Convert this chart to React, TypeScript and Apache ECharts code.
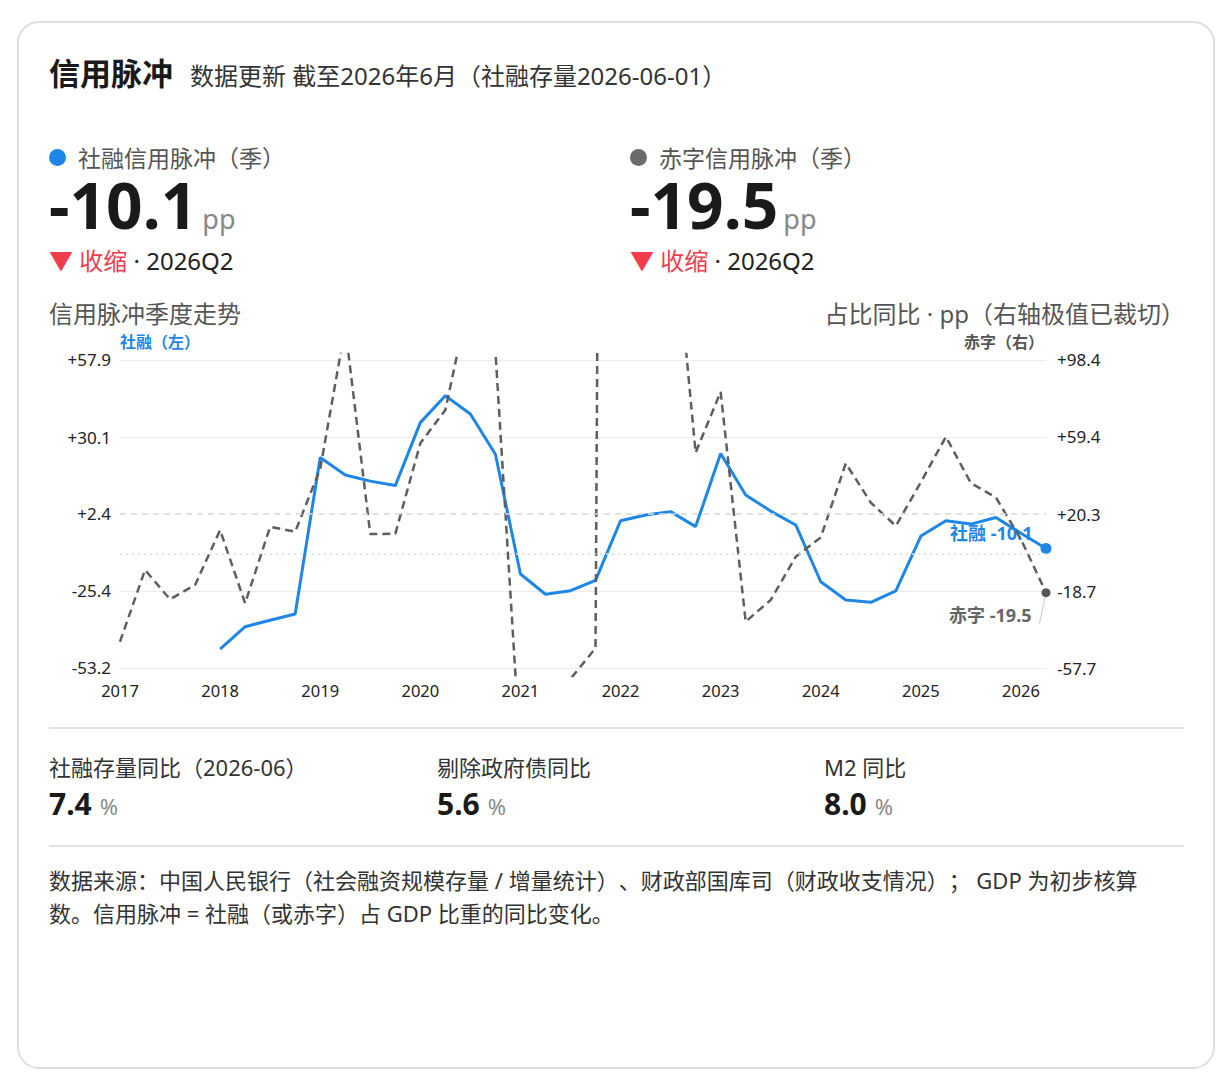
import React, { useEffect, useRef } from "react";
import * as echarts from "echarts";

const QUARTERS = [
  "2017Q1", "2017Q2", "2017Q3", "2017Q4",
  "2018Q1", "2018Q2", "2018Q3", "2018Q4",
  "2019Q1", "2019Q2", "2019Q3", "2019Q4",
  "2020Q1", "2020Q2", "2020Q3", "2020Q4",
  "2021Q1", "2021Q2", "2021Q3", "2021Q4",
  "2022Q1", "2022Q2", "2022Q3", "2022Q4",
  "2023Q1", "2023Q2", "2023Q3", "2023Q4",
  "2024Q1", "2024Q2", "2024Q3", "2024Q4",
  "2025Q1", "2025Q2", "2025Q3", "2025Q4",
  "2026Q1", "2026Q2",
];

// 社融信用脉冲（左轴, pp）
const SOCIAL_PULSE: (number | null)[] = [
  null, null, null, null,
  -46.4, -38.3, -36.0, -33.7,
  22.7, 16.4, 14.2, 12.6,
  35.3, 45.0, 38.4, 23.9,
  -19.3, -26.6, -25.3, -21.6,
  -0.1, 2.0, 3.2, -2.2,
  24.2, 9.2, 3.4, -1.6,
  -22.1, -28.7, -29.5, -25.4,
  -5.6, -0.1, -1.3, 1.1,
  -4.6, -10.1,
];

// 赤字信用脉冲（右轴, pp；极值超出轴范围被裁切）
const DEFICIT_PULSE: number[] = [
  -44.4, -8.0, -22.9, -15.6,
  12.2, -24.9, 13.9, 11.4,
  43.2, 115.0, 10.2, 10.3,
  56.2, 73.1, 132.5, 103.0,
  -102.0, -90.0, -63.2, -47.7,
  2100.0, 820.0, 187.0, 51.4,
  82.3, -34.2, -23.2, -1.3,
  8.5, 46.0, 26.1, 14.3,
  36.5, 59.5, 36.0, 28.7,
  7.5, -19.5,
];

const LEFT_TICKS = [-53.2, -25.4, 2.4, 30.1, 57.9];
const RIGHT_TICKS = [-57.7, -18.7, 20.3, 59.4, 98.4];
const LEFT_RANGE = [-56.09, 60.06];
const RIGHT_RANGE = [-61.75, 101.44];
const LEFT_MID = 2.4;
const RIGHT_ZERO = 0;

const HEAD_SOCIAL = { label: "社融信用脉冲（季）", value: "-10.1", state: "收缩", period: "2026Q2" };
const HEAD_DEFICIT = { label: "赤字信用脉冲（季）", value: "-19.5", state: "收缩", period: "2026Q2" };

const STAT_LABELS = ["社融存量同比（2026-06）", "剔除政府债同比", "M2 同比"];
const STAT_VALUES = ["7.4", "5.6", "8.0"];

const BLUE = "#1e86e6";
const GRAY = "#5e5e5e";
const RED = "#f03c4c";
const FONT = '"Noto Sans", "Noto Sans CJK SC", sans-serif';

const fmt = (v: number) => (v > 0 ? "+" : "") + v.toFixed(1);

function Chart() {
  const ref = useRef<HTMLDivElement>(null);
  useEffect(() => {
    if (!ref.current) return;
    const chart = echarts.init(ref.current, undefined, { renderer: "svg" });
    const last = QUARTERS.length - 1;
    const socialData = SOCIAL_PULSE.map((v, i) =>
      i === last
        ? {
            value: v,
            label: {
              show: true,
              position: "left",
              distance: 4,
              offset: [-4, -16],
              formatter: "社融 " + (v as number).toFixed(1),
              color: BLUE,
              fontWeight: "bold",
              fontSize: 18,
              fontFamily: FONT,
            },
          }
        : v
    );
    const deficitData = DEFICIT_PULSE.map((v, i) =>
      i === last
        ? {
            value: v,
            label: {
              show: true,
              position: "left",
              distance: 4,
              offset: [2, 22],
              padding: [0, 8, 0, 0],
              formatter: "赤字 " + v.toFixed(1),
              color: "#666",
              fontWeight: "bold",
              fontSize: 18,
              fontFamily: FONT,
            },
            labelLine: { show: true, lineStyle: { color: "#c8c8c8", width: 1 } },
          }
        : v
    );
    const option: any = {
      animation: false,
      grid: { left: 90, right: 124, top: 34, bottom: 44 },
      xAxis: {
        type: "category",
        data: QUARTERS,
        boundaryGap: false,
        axisLine: { show: false },
        axisTick: { show: false },
        splitLine: { show: false },
        axisLabel: {
          interval: 3,
          formatter: (v: string) => v.slice(0, 4),
          color: "#222",
          fontSize: 16.5,
          margin: 6,
          fontFamily: FONT,
        },
      },
      yAxis: [
        {
          type: "value",
          min: LEFT_RANGE[0],
          max: LEFT_RANGE[1],
          name: "社融（左）",
          nameLocation: "end",
          nameGap: 12,
          nameTextStyle: {
            align: "left",
            verticalAlign: "middle",
            color: BLUE,
            fontWeight: "bold",
            fontSize: 16,
            fontFamily: FONT,
          },
          axisLine: { show: false },
          axisTick: { show: false, customValues: LEFT_TICKS },
          axisLabel: {
            customValues: LEFT_TICKS,
            formatter: fmt,
            color: "#222",
            fontSize: 17,
            margin: 9,
            fontFamily: FONT,
          },
          splitLine: {
            show: true,
            lineStyle: {
              color: ["#ececec", "#ececec", "rgba(0,0,0,0)", "#ececec", "#ececec"],
              width: 1,
            },
          },
        },
        {
          type: "value",
          position: "right",
          min: RIGHT_RANGE[0],
          max: RIGHT_RANGE[1],
          name: "赤字（右）",
          nameLocation: "end",
          nameGap: 12,
          nameTextStyle: {
            align: "right",
            verticalAlign: "middle",
            color: "#555",
            fontWeight: "bold",
            fontSize: 16,
            padding: [0, 2, 0, 0],
            fontFamily: FONT,
          },
          axisLine: { show: false },
          axisTick: { show: false, customValues: RIGHT_TICKS },
          axisLabel: {
            customValues: RIGHT_TICKS,
            formatter: fmt,
            color: "#222",
            fontSize: 17,
            margin: 11,
            fontFamily: FONT,
          },
          splitLine: { show: false },
        },
      ],
      series: [
        {
          name: "社融",
          type: "line",
          yAxisIndex: 0,
          data: socialData,
          symbol: "circle",
          showSymbol: true,
          symbolSize: (_v: any, p: any) => (p.dataIndex === last ? 11 : 0),
          itemStyle: { color: BLUE },
          lineStyle: { color: BLUE, width: 3 },
          connectNulls: false,
          z: 3,
          markLine: {
            silent: true,
            symbol: "none",
            label: { show: false },
            lineStyle: { color: "#d9d9d9", type: [6, 5], width: 1.5 },
            data: [{ yAxis: LEFT_MID }],
          },
        },
        {
          name: "赤字",
          type: "line",
          yAxisIndex: 1,
          data: deficitData,
          symbol: "circle",
          showSymbol: true,
          symbolSize: (_v: any, p: any) => (p.dataIndex === last ? 9 : 0),
          itemStyle: { color: "#555" },
          lineStyle: { color: GRAY, width: 2.5, type: [8, 5] },
          z: 4,
          markLine: {
            silent: true,
            symbol: "none",
            label: { show: false },
            lineStyle: { color: "#dcdcdc", type: [2, 4], width: 1.5 },
            data: [{ yAxis: RIGHT_ZERO }],
          },
        },
      ],
    };
    chart.setOption(option);
    return () => chart.dispose();
  }, []);
  return (
    <div
      ref={ref}
      style={{ position: "absolute", left: 30, top: 320, width: 1140, height: 400 }}
    />
  );
}

function T(props: {
  x?: number;
  right?: number;
  cy: number;
  size: number;
  color?: string;
  bold?: boolean;
  children: React.ReactNode;
}) {
  const { x, right, cy, size, color = "#333", bold, children } = props;
  const style: React.CSSProperties = {
    position: "absolute",
    top: cy - size / 2,
    fontSize: size,
    lineHeight: size + "px",
    color,
    fontWeight: bold ? 700 : 400,
    whiteSpace: "nowrap",
  };
  if (x !== undefined) style.left = x;
  if (right !== undefined) {
    style.right = right;
    style.textAlign = "right";
  }
  return <div style={style}>{children}</div>;
}

function Head(props: { x: number; dot: string; h: typeof HEAD_SOCIAL }) {
  const { x, dot, h } = props;
  return (
    <>
      <div
        style={{
          position: "absolute",
          left: x,
          top: 149,
          width: 17,
          height: 17,
          borderRadius: 9,
          background: dot,
        }}
      />
      <T x={x + 29} cy={158} size={23} color="#555">
        {h.label}
      </T>
      <div
        style={{
          position: "absolute",
          left: x,
          top: 173,
          fontSize: 64,
          lineHeight: "64px",
          whiteSpace: "nowrap",
        }}
      >
        <span style={{ fontWeight: 700, color: "#1a1a1a" }}>{h.value}</span>
        <span style={{ fontSize: 27, color: "#888", marginLeft: 5, lineHeight: "1" }}>pp</span>
      </div>
      <T x={x} cy={261} size={24} color="#222">
        <span style={{ color: RED }}>▼ {h.state}</span>
        <span> · {h.period}</span>
      </T>
    </>
  );
}

function Stat(props: { x: number; label: string; value: string }) {
  return (
    <>
      <T x={props.x} cy={767} size={22} color="#333">
        {props.label}
      </T>
      <div
        style={{
          position: "absolute",
          left: props.x,
          top: 789,
          fontSize: 30,
          lineHeight: "30px",
          whiteSpace: "nowrap",
        }}
      >
        <span style={{ fontWeight: 700, color: "#1a1a1a" }}>{props.value}</span>
        <span style={{ fontSize: 22, color: "#8a8a8a", marginLeft: 8, lineHeight: "1" }}>%</span>
      </div>
    </>
  );
}

export default function App() {
  const statX = [49, 437, 824];
  const rootStyle: any = {
    position: "absolute",
    left: 0,
    top: 0,
    width: 1232,
    height: 1092,
    background: "#fff",
    fontFamily: FONT,
    overflow: "hidden",
    textSpacingTrim: "space-all",
  };
  return (
    <div style={rootStyle}>
      <div
        style={{
          position: "absolute",
          left: 17,
          top: 21,
          width: 1198,
          height: 1048,
          border: "2px solid #dedede",
          borderRadius: 22,
          boxSizing: "border-box",
        }}
      />
      <T x={49} cy={73} size={31} color="#1a1a1a" bold>
        信用脉冲
      </T>
      <T x={190} cy={76} size={24} color="#333">
        数据更新 截至2026年6月（社融存量2026-06-01）
      </T>

      <Head x={49} dot={BLUE} h={HEAD_SOCIAL} />
      <Head x={630} dot="#6b6b6b" h={HEAD_DEFICIT} />

      <T x={49} cy={314} size={24} color="#555">
        信用脉冲季度走势
      </T>
      <T right={47} cy={314} size={24} color="#555">
        占比同比 · pp（右轴极值已裁切）
      </T>

      <Chart />

      <div
        style={{ position: "absolute", left: 49, top: 727, width: 1135, height: 2, background: "#e2e2e2" }}
      />
      {STAT_LABELS.map((l, i) => (
        <Stat key={l} x={statX[i]} label={l} value={STAT_VALUES[i]} />
      ))}
      <div
        style={{ position: "absolute", left: 49, top: 845, width: 1135, height: 2, background: "#e2e2e2" }}
      />
      <T x={49} cy={880} size={22} color="#333">
        数据来源：中国人民银行（社会融资规模存量 / 增量统计）、财政部国库司（财政收支情况）； GDP 为初步核算
      </T>
      <T x={49} cy={913} size={22} color="#333">
        数。信用脉冲 = 社融（或赤字）占 GDP 比重的同比变化。
      </T>
    </div>
  );
}
